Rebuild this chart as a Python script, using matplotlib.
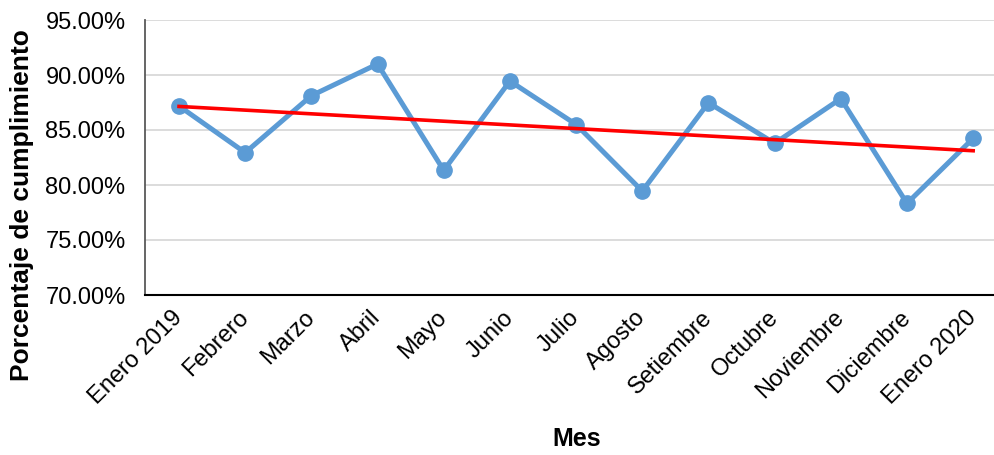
import matplotlib
matplotlib.use("Agg")
import matplotlib.pyplot as plt
from matplotlib.ticker import FuncFormatter
import numpy as np

meses = ["Enero 2019", "Febrero", "Marzo", "Abril", "Mayo", "Junio", "Julio",
         "Agosto", "Setiembre", "Octubre", "Noviembre", "Diciembre", "Enero 2020"]
cumplimiento = [87.18, 82.94, 88.12, 91.00, 81.33, 89.45, 85.50,
                79.45, 87.48, 83.79, 87.85, 78.33, 84.24]
y_ticks = [70, 75, 80, 85, 90, 95]

plt.rcParams['font.family'] = ['Liberation Sans', 'DejaVu Sans']

fig = plt.figure(figsize=(9.95, 4.55), dpi=100)
ax = fig.add_axes([145/995, 1 - 295/455, 850/995, 275/455])

x = np.arange(len(meses))
y = np.array(cumplimiento)

ax.plot(x, y, color="#5B9BD5", lw=3.6, marker="o", ms=11, zorder=3)

# linear trend
m, b = np.polyfit(x, y, 1)
ax.plot(x, m * x + b, color="#FF0000", lw=2.6, zorder=4)

ax.set_ylim(70, 95)
ax.set_yticks(y_ticks)
ax.yaxis.set_major_formatter(FuncFormatter(lambda v, p: f"{v:.2f}%"))
ax.set_xlim(-0.514, 12.33)
ax.set_xticks(x)
ax.set_xticklabels(meses, rotation=45, ha="right", va="center",
                   rotation_mode="anchor")

ax.grid(axis="y", color="#D9D9D9", lw=1.3)
ax.set_axisbelow(True)
for s in ["top", "right"]:
    ax.spines[s].set_visible(False)
ax.spines["left"].set_color("#595959")
ax.spines["left"].set_linewidth(1.3)
ax.spines["bottom"].set_color("#000000")
ax.spines["bottom"].set_linewidth(1.5)

ax.tick_params(axis="y", length=0, pad=14, labelsize=17)
ax.tick_params(axis="x", length=0, pad=14, labelsize=17)

ax.set_ylabel("Porcentaje de cumplimiento", fontsize=19, fontweight="bold",
              va="center")
ax.yaxis.set_label_coords(-0.145, 0.327)
ax.set_xlabel("Mes", fontsize=18, fontweight="bold")
ax.xaxis.set_label_coords(0.508, -0.524)
ax.xaxis.label.set_va("center")

fig.savefig("out.png", dpi=100)
